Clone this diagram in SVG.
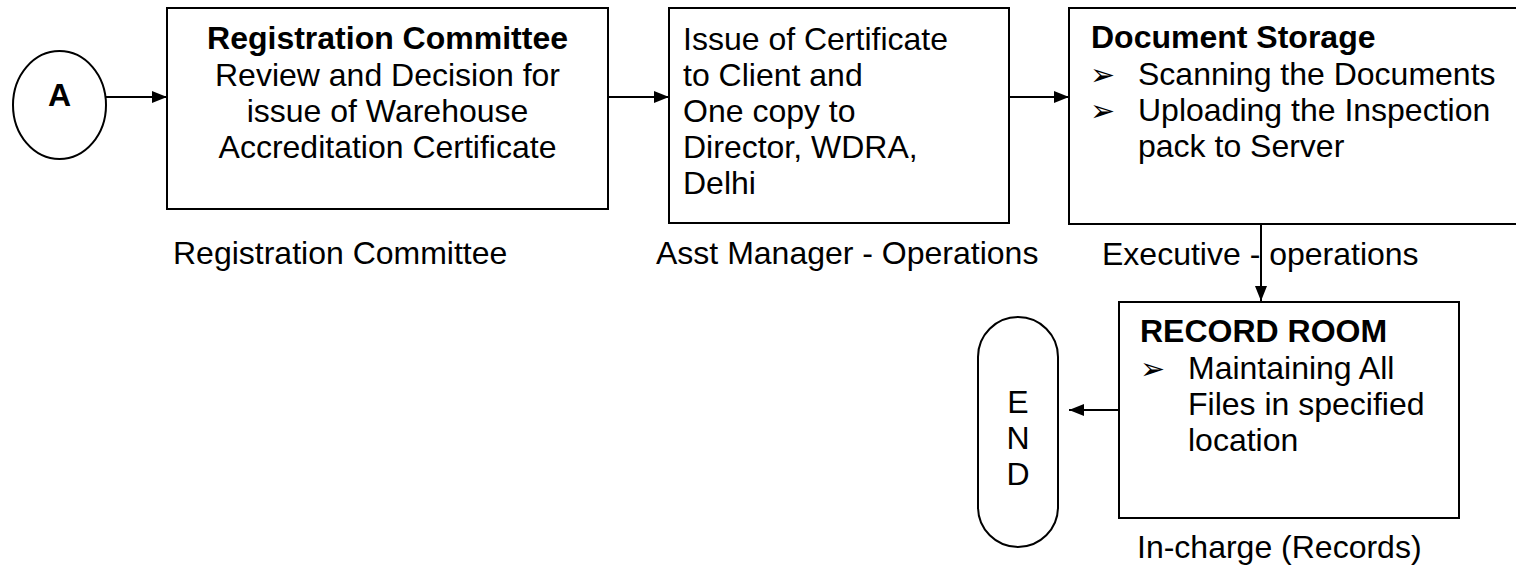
<svg xmlns="http://www.w3.org/2000/svg" width="1516" height="571" viewBox="0 0 1516 571">
<defs>
<marker id="ah" viewBox="0 0 15 12" refX="15" refY="6" markerWidth="15" markerHeight="12" markerUnits="userSpaceOnUse" orient="auto">
<path d="M0,0 L15,6 L0,12 Z" fill="#000"/>
</marker>
<style>
.box{fill:#fff;stroke:#000;stroke-width:2}
.t{font-family:"Liberation Sans",Arial,sans-serif;font-size:32px;fill:#000}
.b{font-weight:bold}
.bul{font-family:"DejaVu Sans",sans-serif;font-size:30px;fill:#000}
.c{text-anchor:middle}
.con{fill:none;stroke:#000;stroke-width:2;marker-end:url(#ah)}
</style>
</defs>
<rect width="1516" height="571" fill="#fff"/>
<g id="connectors">
<line class="con" x1="106" y1="97" x2="167" y2="97"/>
<line class="con" x1="608" y1="97" x2="669" y2="97"/>
<line class="con" x1="1009" y1="97" x2="1069" y2="97"/>
<line class="con" x1="1261" y1="224" x2="1261" y2="301"/>
<line class="con" x1="1119" y1="410" x2="1069" y2="410"/>
</g>
<g id="nodeA">
<ellipse class="box" cx="59.5" cy="105" rx="46.5" ry="54"/>
<text class="t b c" x="59.5" y="106">A</text>
</g>
<g id="node1">
<rect class="box" x="167" y="8" width="441" height="201"/>
<text class="t b c" x="387.5" y="49">Registration Committee</text>
<text class="t c" x="387.5" y="86">Review and Decision for</text>
<text class="t c" x="387.5" y="122">issue of Warehouse</text>
<text class="t c" x="387.5" y="158">Accreditation Certificate</text>
</g>
<text class="t" x="173" y="264">Registration Committee</text>
<g id="node2">
<rect class="box" x="669" y="8" width="340" height="215"/>
<text class="t" x="683" y="50">Issue of Certificate</text>
<text class="t" x="683" y="86">to Client and</text>
<text class="t" x="683" y="122">One copy to</text>
<text class="t" x="683" y="158">Director, WDRA,</text>
<text class="t" x="683" y="194">Delhi</text>
</g>
<text class="t" x="656" y="264">Asst Manager - Operations</text>
<g id="node3">
<rect class="box" x="1069" y="8" width="452" height="216"/>
<text class="t b" x="1091" y="48">Document Storage</text>
<text class="bul" x="1090" y="85">➢</text>
<text class="t" x="1138" y="85">Scanning the Documents</text>
<text class="bul" x="1090" y="121">➢</text>
<text class="t" x="1138" y="121">Uploading the Inspection</text>
<text class="t" x="1138" y="157">pack to Server</text>
</g>
<text class="t" x="1102" y="265">Executive - operations</text>
<g id="node4">
<rect class="box" x="1119" y="302" width="340" height="216"/>
<text class="t b" x="1140" y="342">RECORD ROOM</text>
<text class="bul" x="1140" y="379">➢</text>
<text class="t" x="1188" y="379">Maintaining All</text>
<text class="t" x="1188" y="415">Files in specified</text>
<text class="t" x="1188" y="451">location</text>
</g>
<text class="t" x="1137" y="558">In-charge (Records)</text>
<g id="nodeEnd">
<rect class="box" x="978" y="317" width="80" height="230" rx="40" ry="40"/>
<text class="t c" x="1018" y="413">E</text>
<text class="t c" x="1018" y="449">N</text>
<text class="t c" x="1018" y="485">D</text>
</g>
</svg>
